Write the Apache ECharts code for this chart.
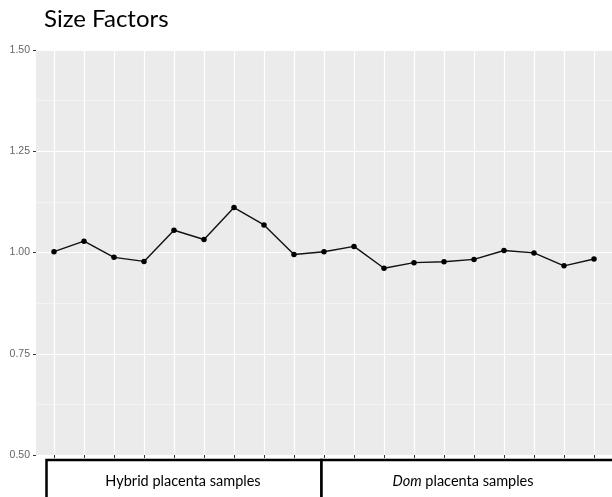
<!DOCTYPE html>
<html>
<head>
<meta charset="utf-8">
<title>Size Factors</title>
<script src="https://cdn.jsdelivr.net/npm/echarts@6/dist/echarts.min.js"></script>
<style>
  html, body { margin: 0; padding: 0; background: #fff; }
  #chart { width: 612px; height: 497px; }
</style>
</head>
<body>
<div id="chart"></div>
<script>
// Sample positions along the x axis (one per library)
const samplePositions = [1, 2, 3, 4, 5, 6, 7, 8, 9, 10, 11, 12, 13, 14, 15, 16, 17, 18, 19];
// Size factors per sample
const sizeFactors = [1.002, 1.028, 0.988, 0.978, 1.055, 1.032, 1.111, 1.068, 0.995,
                     1.002, 1.015, 0.961, 0.975, 0.977, 0.983, 1.005, 0.999, 0.967, 0.984];
// y-axis tick values
const yTicks = [0.50, 0.75, 1.00, 1.25, 1.50];

const chart = echarts.init(document.getElementById('chart'), null, { renderer: 'canvas' });

const points = samplePositions.map((x, i) => [x, sizeFactors[i]]);

const option = {
  animation: false,
  backgroundColor: '#ffffff',
  title: {
    text: 'Size Factors',
    left: 39,
    top: 2,
    textStyle: { fontFamily: 'Lato', fontSize: 24, fontWeight: 'normal', color: '#000' }
  },
  grid: {
    left: 36,
    top: 50,
    width: 582,
    height: 405,
    show: true,
    backgroundColor: '#EBEBEB',
    borderWidth: 0
  },
  xAxis: {
    type: 'value',
    min: 0.4,
    max: 19.6,
    axisLine: { show: false },
    axisLabel: { show: false },
    splitLine: { show: false },
    axisTick: {
      show: true,
      length: 3,
      customValues: samplePositions,
      lineStyle: { color: '#333333', width: 1 }
    }
  },
  yAxis: {
    type: 'value',
    min: yTicks[0],
    max: yTicks[yTicks.length - 1],
    interval: 0.25,
    axisLine: { show: false },
    axisTick: { show: true, length: 3, lineStyle: { color: '#333333', width: 1 } },
    axisLabel: {
      margin: 6,
      color: '#666666',
      fontFamily: 'Liberation Sans',
      fontSize: 10.5,
      formatter: v => v.toFixed(2)
    },
    splitLine: { show: true, lineStyle: { color: '#ffffff', width: 1.2 } },
    minorTick: { show: false, splitNumber: 2 },
    minorSplitLine: { show: true, lineStyle: { color: '#F6F6F6', width: 0.7 } }
  },
  series: [
    {
      // vertical grid lines at each sample position
      type: 'line',
      data: [],
      silent: true,
      z: 1,
      markLine: {
        silent: true,
        symbol: 'none',
        label: { show: false },
        lineStyle: { color: '#ffffff', width: 1.2, type: 'solid' },
        data: samplePositions.map(x => ({ xAxis: x }))
      }
    },
    {
      type: 'line',
      data: points,
      z: 8,
      symbol: 'circle',
      symbolSize: 5.5,
      itemStyle: { color: '#000000' },
      lineStyle: { color: '#111111', width: 1.4 }
    }
  ],
  graphic: [
    {
      type: 'rect',
      shape: { x: 46.5, y: 460, width: 275, height: 60 },
      style: { fill: '#ffffff', stroke: '#000000', lineWidth: 2.5 },
      z: 10
    },
    {
      type: 'rect',
      shape: { x: 321.5, y: 460, width: 320, height: 60 },
      style: { fill: '#ffffff', stroke: '#000000', lineWidth: 2.5 },
      z: 10
    },
    {
      type: 'text',
      x: 183,
      y: 481,
      z: 11,
      style: {
        text: 'Hybrid placenta samples',
        fontFamily: 'Lato',
        fontSize: 14.5,
        fill: '#000',
        align: 'center',
        verticalAlign: 'middle'
      }
    },
    {
      type: 'text',
      x: 463,
      y: 481,
      z: 11,
      style: {
        text: '{i|Dom} placenta samples',
        fontFamily: 'Lato',
        fontSize: 14.5,
        fill: '#000',
        align: 'center',
        verticalAlign: 'middle',
        rich: {
          i: { fontStyle: 'italic', fontFamily: 'Lato', fontSize: 14.5, fill: '#000' }
        }
      }
    }
  ]
};

chart.setOption(option);
</script>
</body>
</html>
